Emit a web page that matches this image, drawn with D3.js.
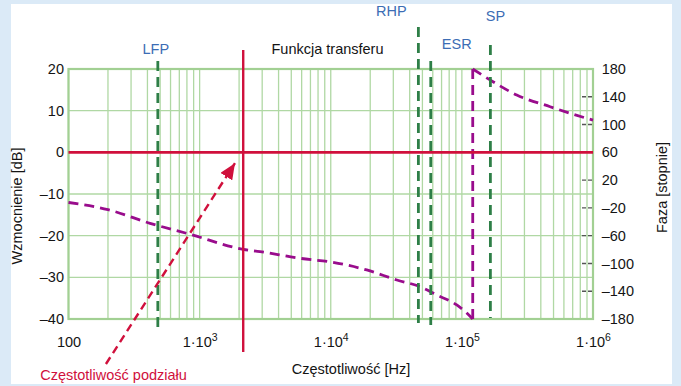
<!DOCTYPE html>
<html>
<head>
  <meta charset="utf-8">
  <title>Funkcja transferu</title>
  <style>
    body { margin: 0; background: #dbeaf7; }
    svg { display: block; font-family: "Liberation Sans", Arial, sans-serif; }
  </style>
</head>
<body>
  <svg id="main" width="681" height="386"></svg>

  <script src="https://cdn.jsdelivr.net/npm/d3@7"></script>
  <script>
    // axis ticks
    const gainTicks = [-40, -30, -20, -10, 0, 10, 20]
    const phaseTicks = [-180, -140, -100, -60, -20, 20, 60, 100, 140, 180]
    const freqTicks = [1e2, 1e3, 1e4, 1e5, 1e6]

    // phase curve, lower branch then wrapped upper branch
    const phaseFreqLow = [100, 200, 419, 845, 2150, 2890, 5830, 10400, 18800, 31900, 48000, 64400, 91400, 115500, 121000]
    const phaseLow = [-12.2, -22.5, -42.2, -58, -79.6, -83, -92.6, -98.4, -109.4, -123.8, -133.5, -145.4, -159.8, -176, -180]
    const phaseFreqHigh = [121000, 165000, 262000, 471000, 897000, 1000000]
    const phaseHigh = [180, 164, 142.6, 125.7, 109, 106.5]

    // marker frequencies
    const markerNames = ['LFP', 'RHP', 'ESR', 'SP']
    const markerFreqs = [480, 46600, 57900, 165000]
    const crossFreq = 2150
    const crossGain = 0

    // annotation arrow (freq, dB)
    const arrowFrom = [193, -50.8]
    const arrowTo = [1860, -2.6]

    const svg = d3.select('#main')
    const width = +svg.attr('width')
    const height = +svg.attr('height')
    const plot = { left: 68.5, right: 593, top: 69, bottom: 319 }

    const colors = {
      grid: '#b0d8a4',
      frame: '#a2d093',
      red: '#d0103c',
      magenta: '#990c8c',
      green: '#2e7f47',
      blue: '#3c6db5',
      text: '#141414'
    }

    svg.append('rect').attr('width', width).attr('height', height).attr('fill', '#dbeaf7')
    svg.append('rect').attr('x', 11).attr('y', 4).attr('width', 661).attr('height', 380).attr('fill', '#fff')

    const x = d3.scaleLog().domain([1e2, 1e6]).range([plot.left, plot.right])
    const yL = d3.scaleLinear().domain([-40, 20]).range([plot.bottom, plot.top])
    const yR = d3.scaleLinear().domain([-180, 180]).range([plot.bottom, plot.top])

    // grid
    const minor = []
    for (let d = 2; d < 6; d++) for (let k = 1; k < 10; k++) minor.push(k * Math.pow(10, d))
    minor.push(1e6)

    const grid = svg.append('g')
    grid.selectAll('line.v').data(minor).join('line')
      .attr('x1', d => x(d)).attr('x2', d => x(d))
      .attr('y1', plot.top).attr('y2', plot.bottom)
      .attr('stroke', colors.grid).attr('stroke-width', 1.3)
    grid.selectAll('line.h').data(gainTicks).join('line')
      .attr('x1', plot.left).attr('x2', plot.right)
      .attr('y1', d => yL(d)).attr('y2', d => yL(d))
      .attr('stroke', colors.grid).attr('stroke-width', 1.3)
    grid.append('rect')
      .attr('x', plot.left).attr('y', plot.top)
      .attr('width', plot.right - plot.left).attr('height', plot.bottom - plot.top)
      .attr('fill', 'none').attr('stroke', colors.frame).attr('stroke-width', 2.2)

    // right axis small dashed ticks
    svg.append('g').selectAll('line').data(phaseTicks.slice(1, -1)).join('line')
      .attr('x1', plot.right - 11).attr('x2', plot.right)
      .attr('y1', d => yR(d)).attr('y2', d => yR(d))
      .attr('stroke', '#555').attr('stroke-width', 1.4).attr('stroke-dasharray', '4,2')

    // axes
    const fmt = d => d < 0 ? '–' + Math.abs(d) : String(d)
    const leftAxis = svg.append('g').attr('transform', `translate(${plot.left},0)`)
      .call(d3.axisLeft(yL).tickValues(gainTicks).tickSize(0).tickPadding(4.5).tickFormat(fmt))
    const rightAxis = svg.append('g').attr('transform', `translate(${plot.right},0)`)
      .call(d3.axisRight(yR).tickValues(phaseTicks).tickSize(0).tickPadding(8.7).tickFormat(fmt))
    const bottomAxis = svg.append('g').attr('transform', `translate(0,${plot.bottom})`)
      .call(d3.axisBottom(x).tickValues(freqTicks).tickSize(0).tickPadding(17.7).tickFormat(() => ''))

    ;[leftAxis, rightAxis, bottomAxis].forEach(a => {
      a.select('.domain').remove()
      a.selectAll('.tick text')
        .attr('font-family', '"Liberation Sans", Arial, sans-serif')
        .attr('font-size', '14.5px')
        .attr('fill', colors.text)
    })

    bottomAxis.selectAll('.tick text').each(function (d) {
      const t = d3.select(this)
      const e = Math.round(Math.log10(d))
      if (e === 2) { t.text('100'); return }
      t.append('tspan').text('1·10')
      t.append('tspan').text(e).attr('font-size', '10.5px').attr('dy', '-5.5')
    })

    // phase curve
    const line = d3.line().x(d => x(d[0])).y(d => yR(d[1])).curve(d3.curveMonotoneX)
    const low = phaseFreqLow.map((f, i) => [f, phaseLow[i]])
    const high = phaseFreqHigh.map((f, i) => [f, phaseHigh[i]])
    const wrap = [[phaseFreqLow[phaseFreqLow.length - 1], -180], [phaseFreqHigh[0], 180]]

    ;[low, wrap, high].forEach(dat => {
      svg.append('path').datum(dat)
        .attr('fill', 'none')
        .attr('stroke', colors.magenta)
        .attr('stroke-width', 2.8)
        .attr('stroke-dasharray', '10,6')
        .attr('d', d3.line().x(d => x(d[0])).y(d => yR(d[1])).curve(dat === wrap ? d3.curveLinear : d3.curveMonotoneX))
    })

    // marker lines
    const markerLayout = {
      LFP: { top: 61, bottom: 332, dx: -2, ty: 54 },
      RHP: { top: 27, bottom: 323, dx: -27, ty: 16 },
      ESR: { top: 61, bottom: 325, dx: 26, ty: 48.5 },
      SP: { top: 45, bottom: 318, dx: 5, ty: 20.5 }
    }
    const markers = svg.append('g')
    markerNames.forEach((name, i) => {
      const L = markerLayout[name]
      const mx = x(markerFreqs[i])
      markers.append('line')
        .attr('x1', mx).attr('x2', mx).attr('y1', L.top).attr('y2', L.bottom)
        .attr('stroke', colors.green).attr('stroke-width', 2.8).attr('stroke-dasharray', '10,6')
      markers.append('text').text(name)
        .attr('x', mx + L.dx).attr('y', L.ty)
        .attr('text-anchor', 'middle')
        .attr('font-size', '14.5px')
        .attr('fill', colors.blue)
    })

    // 0 dB line and crossover frequency
    svg.append('line')
      .attr('x1', plot.left).attr('x2', plot.right)
      .attr('y1', yL(crossGain)).attr('y2', yL(crossGain))
      .attr('stroke', colors.red).attr('stroke-width', 2.8)
    svg.append('line')
      .attr('x1', x(crossFreq)).attr('x2', x(crossFreq))
      .attr('y1', 50).attr('y2', 352)
      .attr('stroke', colors.red).attr('stroke-width', 2.4)

    // arrow
    const defs = svg.append('defs')
    defs.append('marker')
      .attr('id', 'arrow')
      .attr('markerUnits', 'userSpaceOnUse')
      .attr('viewBox', '0 0 16 14')
      .attr('refX', 16).attr('refY', 7)
      .attr('markerWidth', 16).attr('markerHeight', 14)
      .attr('orient', 'auto')
      .append('path').attr('d', 'M0,0 L16,7 L0,14 Z').attr('fill', colors.red)

    svg.append('line')
      .attr('x1', x(arrowFrom[0])).attr('y1', yL(arrowFrom[1]))
      .attr('x2', x(arrowTo[0])).attr('y2', yL(arrowTo[1]))
      .attr('stroke', colors.red).attr('stroke-width', 2.4)
      .attr('stroke-dasharray', '8,5')
      .attr('marker-end', 'url(#arrow)')

    // texts
    const txt = (s, xx, yy, opts = {}) => svg.append('text').text(s)
      .attr('x', xx).attr('y', yy)
      .attr('font-size', '14.5px')
      .attr('fill', opts.fill || colors.text)
      .attr('text-anchor', opts.anchor || 'middle')

    txt('Funkcja transferu', 327.5, 54)
    txt('Częstotliwość [Hz]', 351, 373.5)
    txt('Częstotliwość podziału', 113.5, 380, { fill: colors.red })

    svg.append('text').text('Wzmocnienie [dB]')
      .attr('transform', 'translate(22,206) rotate(-90)')
      .attr('text-anchor', 'middle').attr('font-size', '14.5px').attr('fill', colors.text)
    svg.append('text').text('Faza [stopnie]')
      .attr('transform', 'translate(667,187.5) rotate(-90)')
      .attr('text-anchor', 'middle').attr('font-size', '14.5px').attr('fill', colors.text)
  </script>
</body>
</html>
